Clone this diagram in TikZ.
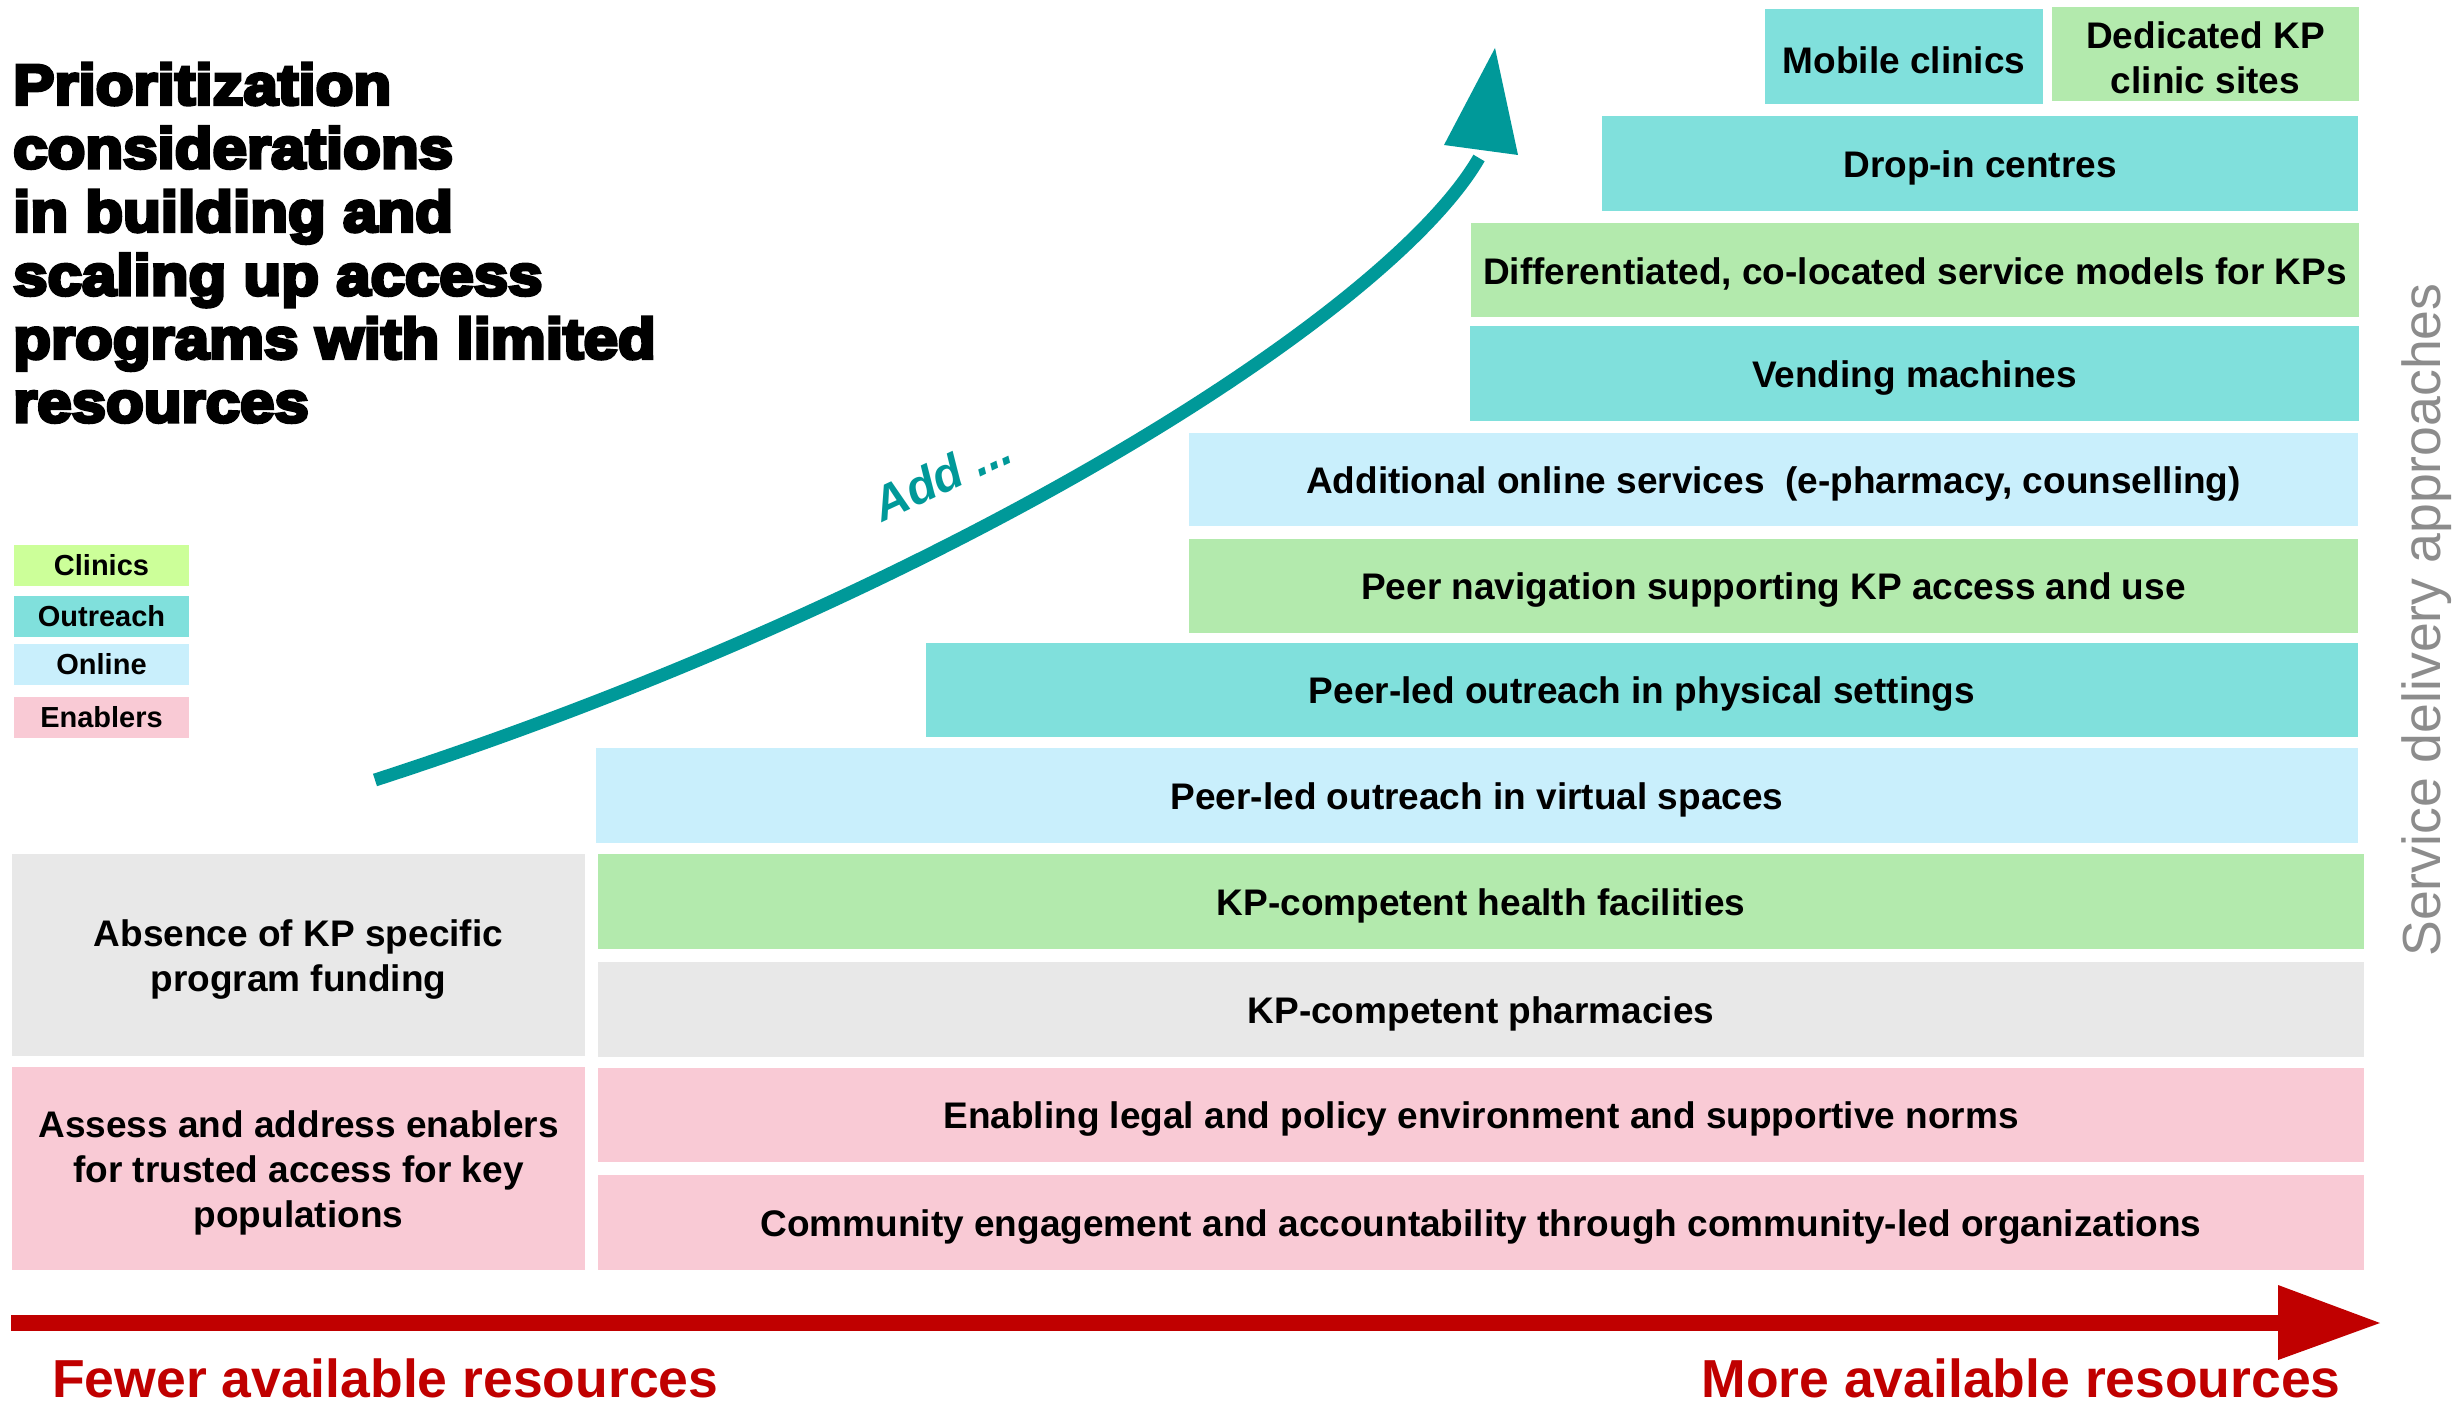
\documentclass[tikz,border=0pt]{standalone}
\usepackage{fontspec}
\setmainfont{Liberation Sans}
\newfontfamily\titlefont{Liberation Sans Bold}[FakeBold=6,FakeStretch=1.085]
\usetikzlibrary{arrows.meta}
\definecolor{outreach}{HTML}{80E0DC}
\definecolor{clinic}{HTML}{B3EAAD}
\definecolor{online}{HTML}{C9EFFC}
\definecolor{enabler}{HTML}{F9CAD5}
\definecolor{grayb}{HTML}{E8E8E8}
\definecolor{legclinic}{HTML}{CCFF99}
\definecolor{tealarrow}{HTML}{009999}
\definecolor{darkred}{HTML}{C00000}
\definecolor{sidegray}{HTML}{8C8C8C}
\newcommand{\bxf}{\fontsize{37}{45}\selectfont\bfseries}
\newcommand{\lgf}{\fontsize{29}{35}\selectfont\bfseries}
\newcommand{\tallstrut}{\rule{0pt}{35pt}}
\begin{document}
\begin{tikzpicture}[x=1pt,y=-1pt,
  bx/.style={inner sep=0pt, outer sep=0pt, align=center, font=\bxf, text=black},
  lg/.style={inner sep=0pt, outer sep=0pt, align=center, font=\lgf, text=black,
             minimum width=175pt, minimum height=41pt},
  redlab/.style={inner sep=0pt, font=\fontsize{53.5}{60}\selectfont\bfseries, text=darkred}]
\useasboundingbox[fill=white] (0,0) rectangle (2460,1404);

% title
\node[anchor=north west, inner sep=0pt, align=left,
      font=\titlefont\fontsize{57}{63.5}\selectfont] (title) at (13,63)
  {Prioritization\\considerations\\in building and\\scaling up access\\programs with limited\\resources};

% legend
\node[lg, fill=legclinic] (lclin) at (101.5,565.5) {Clinics};
\node[lg, fill=outreach] (lout) at (101.5,616.5) {Outreach};
\node[lg, fill=online] (lonl) at (101.5,664.5) {Online};
\node[lg, fill=enabler] (lena) at (101.5,717.5) {Enablers};

% stair boxes
\node[bx, fill=outreach, minimum width=278pt, minimum height=95pt] (mobile) at (1904,56.5) {\tallstrut Mobile clinics};
\node[bx, fill=clinic, minimum width=307pt, minimum height=94pt] (dedicated) at (2205.5,54) {\tallstrut Dedicated KP\\clinic sites};
\node[bx, fill=outreach, minimum width=756pt, minimum height=95pt] (dropin) at (1980,163.5) {\tallstrut Drop-in centres};
\node[bx, fill=clinic, minimum width=888pt, minimum height=94pt] (diff) at (1915,270) {\tallstrut Differentiated, co-located service models for KPs};
\node[bx, fill=outreach, minimum width=889pt, minimum height=95pt] (vending) at (1914.5,373.5) {\tallstrut Vending machines};
\node[bx, fill=online, minimum width=1169pt, minimum height=93pt] (addonline) at (1773.5,479.5) {\tallstrut Additional online services\ \ (e-pharmacy, counselling)};
\node[bx, fill=clinic, minimum width=1169pt, minimum height=94pt] (peernav) at (1773.5,586) {\tallstrut Peer navigation supporting KP access and use};
\node[bx, fill=outreach, minimum width=1432pt, minimum height=94pt] (physical) at (1642,690) {\tallstrut Peer-led outreach in physical settings};
\node[bx, fill=online, minimum width=1762pt, minimum height=95pt] (virtual) at (1477,795.5) {\tallstrut Peer-led outreach in virtual spaces};
\node[bx, fill=clinic, minimum width=1766pt, minimum height=95pt] (health) at (1481,901.5) {\tallstrut KP-competent health facilities};
\node[bx, fill=grayb, minimum width=1766pt, minimum height=95pt] (pharm) at (1481,1009.5) {\tallstrut KP-competent pharmacies};
\node[bx, fill=enabler, minimum width=1766pt, minimum height=94pt] (legal) at (1481,1115) {\tallstrut Enabling legal and policy environment and supportive norms};
\node[bx, fill=enabler, minimum width=1766pt, minimum height=95pt] (community) at (1481,1222.5) {\tallstrut Community engagement and accountability through community-led organizations};
\node[bx, fill=grayb, minimum width=573pt, minimum height=202pt] (absence) at (298.5,955) {\tallstrut Absence of KP specific\\program funding};
\node[bx, fill=enabler, minimum width=573pt, minimum height=203pt] (assess) at (298.5,1168.5) {\tallstrut Assess and address enablers\\for trusted access for key\\populations};

% side label
\node[anchor=base, rotate=90, inner sep=0pt, text=sidegray,
      font=\fontsize{53.6}{60}\selectfont] (side) at (2440,620) {Service delivery approaches};

% teal curved arrow
\coordinate (ts) at (375,780);
\coordinate (te) at (1479,158);
\coordinate (ttip) at (1495,48);
\coordinate (th1) at (1444,145);
\coordinate (th2) at (1518,155);
\draw[tealarrow, line width=13pt] (ts) .. controls (946,595) and (1389,314) .. (te);
\fill[tealarrow] (th1) -- (ttip) -- (th2) -- cycle;
\node[rotate=25, inner sep=0pt, text=tealarrow,
      font=\fontsize{48}{56}\selectfont\bfseries\itshape] (add) at (942,476) {Add ...};

% red arrow
\coordinate (rs) at (11,1323);
\coordinate (rb) at (2282,1323);
\coordinate (rtip) at (2380,1323);
\coordinate (rh1) at (2278,1285);
\coordinate (rh2) at (2278,1360);
\draw[darkred, line width=16pt] (rs) -- (rb);
\fill[darkred] (rh1) -- (rtip) -- (rh2) -- cycle;
\node[redlab, anchor=base west] (fewer) at (52,1397) {Fewer available resources};
\node[redlab, anchor=base east] (more) at (2341,1397) {More available resources};
\end{tikzpicture}
\end{document}
